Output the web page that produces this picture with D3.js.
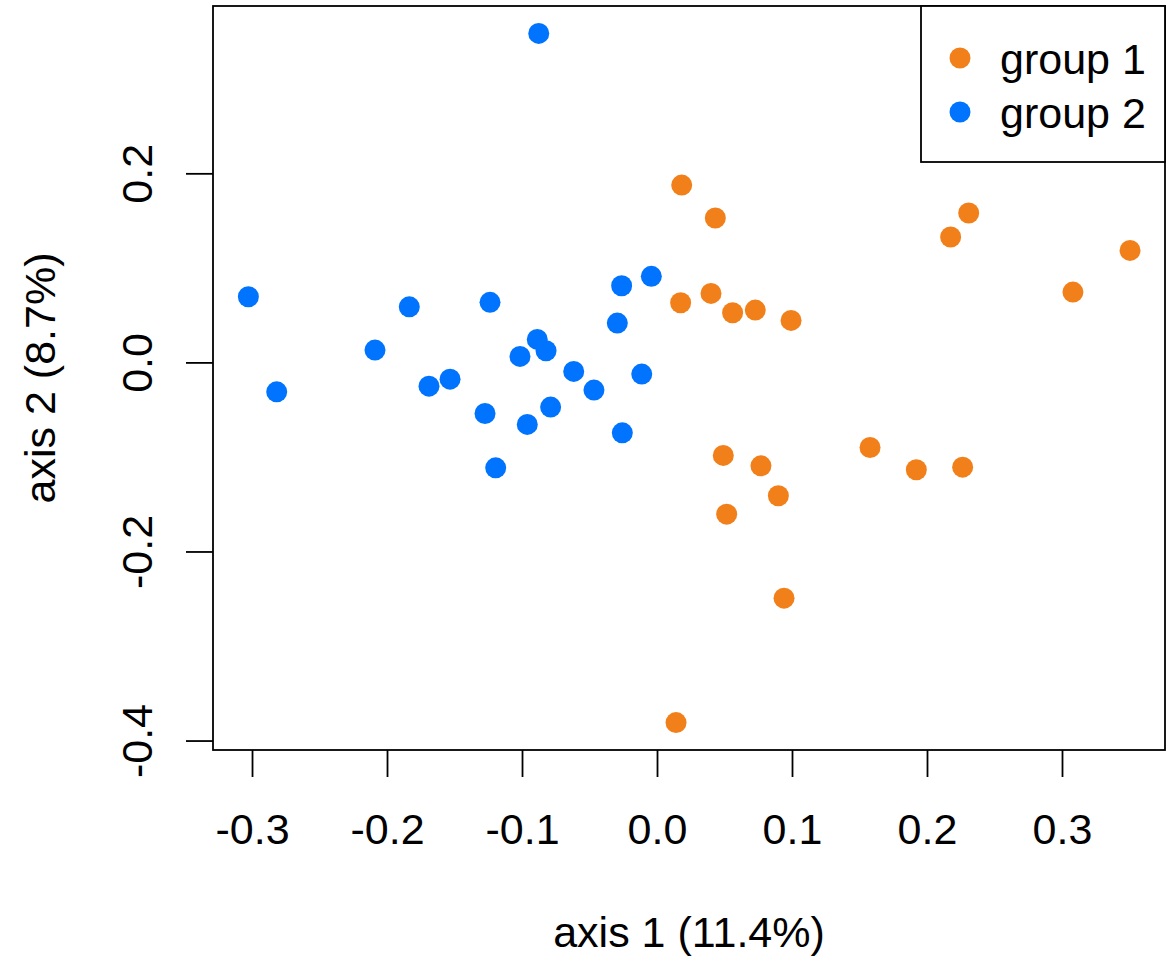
<!DOCTYPE html>
<html>
<head>
<meta charset="utf-8">
<script src="https://cdn.jsdelivr.net/npm/d3@7"></script>
<style>
  body { margin: 0; background: #fff; }
  text { font-family: "Liberation Sans", Arial, Helvetica, sans-serif; }
</style>
</head>
<body>
<div id="chart"></div>
<script>
const dims = {
    width: 1172, height: 957,
    left: 213, right: 1165, top: 6, bottom: 750
}

// values
const group1 = [
    [0.0183, 0.1876], [0.0432, 0.1527], [0.2309, 0.1580], [0.2175, 0.1326],
    [0.0175, 0.0631], [0.0400, 0.0730], [0.0560, 0.0525], [0.0728, 0.0553],
    [0.0993, 0.0444], [0.0491, -0.0984], [0.0770, -0.1094], [0.0899, -0.1411],
    [0.0516, -0.1605], [0.1578, -0.0900], [0.1921, -0.1136], [0.2264, -0.1108],
    [0.0941, -0.2494], [0.0141, -0.3810], [0.3081, 0.0744], [0.3504, 0.1185]
];
const group2 = [
    [-0.3027, 0.0694], [-0.2817, -0.0311], [-0.1835, 0.0588], [-0.2089, 0.0130],
    [-0.1237, 0.0635], [-0.1689, -0.0251], [-0.1533, -0.0177], [-0.0887, 0.0243],
    [-0.0822, 0.0123], [-0.1015, 0.0063], [-0.1274, -0.0540], [-0.0961, -0.0656],
    [-0.0788, -0.0473], [-0.1195, -0.1115], [-0.0617, -0.0095], [-0.0467, -0.0293],
    [-0.0262, 0.0811], [-0.0294, 0.0416], [-0.0257, -0.0745], [-0.0113, -0.0124],
    [-0.0042, 0.0910], [-0.0876, 0.3480]
];
const xTicks = [-0.3, -0.2, -0.1, 0.0, 0.1, 0.2, 0.3];
const yTicks = [-0.4, -0.2, 0.0, 0.2];
const groupNames = ["group 1", "group 2"];
const groupColors = ["#f2801a", "#0073ff"];
const xTitle = "axis 1 (11.4%)";
const yTitle = "axis 2 (8.7%)";

const fontSize = 43;
const lw = 1.8;

const svg = d3.select("#chart")
    .append("svg")
    .attr("width", dims.width)
    .attr("height", dims.height);

const x = d3.scaleLinear().domain([-0.3289, 0.3763]).range([dims.left, dims.right]);
const y = d3.scaleLinear().domain([-0.410, 0.377]).range([dims.bottom, dims.top]);

// points
[group1, group2].forEach((pts, i) => {
    svg.append("g")
        .selectAll("circle")
        .data(pts)
        .join("circle")
        .attr("cx", d => x(d[0]))
        .attr("cy", d => y(d[1]))
        .attr("r", 10.5)
        .style("fill", groupColors[i]);
});

// axes
const xAxis = svg.append("g")
    .attr("transform", `translate(0,${dims.bottom})`)
    .call(d3.axisBottom(x).tickValues(xTicks).tickSize(27).tickPadding(36)
        .tickFormat(d => d.toFixed(1)));
xAxis.select(".domain").remove();
xAxis.selectAll("line").attr("stroke", "#000").attr("stroke-width", lw);
xAxis.selectAll("text")
    .attr("font-size", fontSize)
    .attr("font-family", "Liberation Sans, Arial, sans-serif")
    .attr("fill", "#000");

const yAxis = svg.append("g")
    .attr("transform", `translate(${dims.left},0)`)
    .call(d3.axisLeft(y).tickValues(yTicks).tickSize(27)
        .tickFormat(d => d.toFixed(1)));
yAxis.select(".domain").remove();
yAxis.selectAll("line").attr("stroke", "#000").attr("stroke-width", lw);
yAxis.selectAll("text")
    .attr("x", 0).attr("y", 0).attr("dy", null)
    .attr("text-anchor", "middle")
    .attr("transform", "translate(-61,0) rotate(-90)")
    .attr("font-size", fontSize)
    .attr("font-family", "Liberation Sans, Arial, sans-serif")
    .attr("fill", "#000");

// plot frame
svg.append("rect")
    .attr("x", dims.left).attr("y", dims.top)
    .attr("width", dims.right - dims.left)
    .attr("height", dims.bottom - dims.top)
    .style("fill", "none")
    .style("stroke", "#000")
    .style("stroke-width", lw);

// axis titles
svg.append("text")
    .attr("x", (dims.left + dims.right) / 2)
    .attr("y", 947)
    .attr("text-anchor", "middle")
    .attr("font-size", fontSize)
    .text(xTitle);

svg.append("text")
    .attr("transform", `translate(55,${(dims.top + dims.bottom) / 2}) rotate(-90)`)
    .attr("text-anchor", "middle")
    .attr("font-size", fontSize)
    .text(yTitle);

// legend
const legend = svg.append("g");
legend.append("rect")
    .attr("x", 921).attr("y", dims.top)
    .attr("width", dims.right - 921)
    .attr("height", 162 - dims.top)
    .style("fill", "#fff")
    .style("stroke", "#000")
    .style("stroke-width", lw);

const items = legend.selectAll("g.item")
    .data(groupNames)
    .join("g")
    .attr("class", "item")
    .attr("transform", (d, i) => `translate(0,${58 + i * 54})`);

items.append("circle")
    .attr("cx", 960)
    .attr("cy", 0)
    .attr("r", 10.5)
    .style("fill", (d, i) => groupColors[i]);

items.append("text")
    .attr("x", 1000)
    .attr("y", 16)
    .attr("font-size", fontSize)
    .text(d => d);
</script>
</body>
</html>
